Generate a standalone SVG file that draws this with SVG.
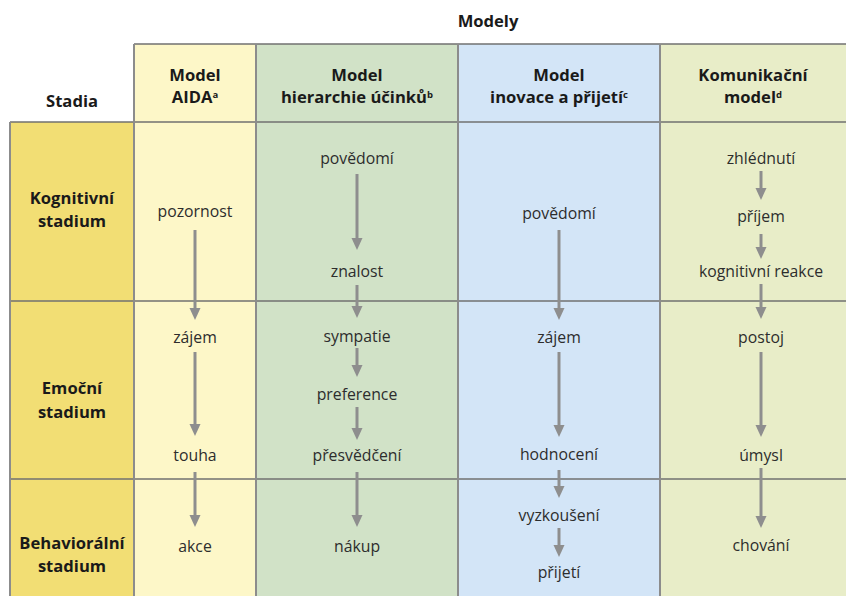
<svg xmlns="http://www.w3.org/2000/svg" width="846" height="596" viewBox="0 0 846 596">
  <style>
    .hd { font-family: "Open Sans", "Noto Sans", "DejaVu Sans", sans-serif; font-weight: bold; font-size: 16.6px; fill: #1a1a1a; text-anchor: middle; }
    .sup { font-size: 9.5px; }
    .tx { font-family: "Open Sans", "Noto Sans", "DejaVu Sans", sans-serif; font-size: 15.8px; fill: #2d2d2d; text-anchor: middle; }
    .vl { stroke: #8c8c8c; stroke-width: 2; fill: none; }
    .hl { stroke: #707070; stroke-width: 1.3; fill: none; }
    .ar { stroke: #8e8e8e; stroke-width: 3; fill: none; marker-end: url(#head); }
  </style>
  <defs>
    <marker id="head" markerUnits="userSpaceOnUse" markerWidth="12" markerHeight="12" viewBox="0 -6 12 12" refX="0" refY="0" orient="auto">
      <path d="M0,-5.5 L12,0 L0,5.5 z" fill="#8e8e8e"/>
    </marker>
  </defs>

  <rect width="846" height="596" fill="#ffffff"/>

  <!-- column fills -->
  <g id="fills">
    <rect x="10" y="122" width="124" height="474" fill="#F2DE74"/>
    <rect x="134" y="44" width="122" height="552" fill="#FDF7C8"/>
    <rect x="256" y="44" width="202" height="552" fill="#D1E2C7"/>
    <rect x="458" y="44" width="202" height="552" fill="#D3E5F7"/>
    <rect x="660" y="44" width="186" height="552" fill="#E8EDC8"/>
  </g>

  <!-- grid lines -->
  <g id="grid">
    <line class="hl" x1="134" y1="44" x2="846" y2="44"/>
    <line class="hl" x1="10" y1="122" x2="846" y2="122"/>
    <line class="hl" x1="10" y1="301" x2="846" y2="301"/>
    <line class="hl" x1="10" y1="479" x2="846" y2="479"/>
    <line class="vl" x1="10" y1="122" x2="10" y2="596"/>
    <line class="vl" x1="134" y1="44" x2="134" y2="596"/>
    <line class="vl" x1="256" y1="44" x2="256" y2="596"/>
    <line class="vl" x1="458" y1="44" x2="458" y2="596"/>
    <line class="vl" x1="660" y1="44" x2="660" y2="596"/>
  </g>

  <!-- headers -->
  <g id="header-modely"><text class="hd" x="488" y="27">Modely</text></g>
  <g id="header-stadia"><text class="hd" x="72" y="107">Stadia</text></g>
  <g id="header-aida">
    <text class="hd" x="195" y="81">Model</text>
    <text class="hd" x="195" y="103">AIDA<tspan class="sup" dy="-5">a</tspan></text>
  </g>
  <g id="header-hierarchie">
    <text class="hd" x="357" y="81">Model</text>
    <text class="hd" x="357" y="103">hierarchie účinků<tspan class="sup" dy="-5">b</tspan></text>
  </g>
  <g id="header-inovace">
    <text class="hd" x="559" y="81">Model</text>
    <text class="hd" x="559" y="103">inovace a přijetí<tspan class="sup" dy="-5">c</tspan></text>
  </g>
  <g id="header-komunikacni">
    <text class="hd" x="753" y="81">Komunikační</text>
    <text class="hd" x="753" y="103">model<tspan class="sup" dy="-5">d</tspan></text>
  </g>

  <!-- stage labels -->
  <g id="stage-kognitivni">
    <text class="hd" x="72" y="204">Kognitivní</text>
    <text class="hd" x="72" y="227">stadium</text>
  </g>
  <g id="stage-emocni">
    <text class="hd" x="72" y="394">Emoční</text>
    <text class="hd" x="72" y="418">stadium</text>
  </g>
  <g id="stage-behavioralni">
    <text class="hd" x="72" y="549">Behaviorální</text>
    <text class="hd" x="72" y="572">stadium</text>
  </g>

  <!-- AIDA model -->
  <g id="aida-pozornost"><text class="tx" x="195" y="217">pozornost</text></g>
  <g id="aida-zajem"><text class="tx" x="195" y="343">zájem</text></g>
  <g id="aida-touha"><text class="tx" x="195" y="461">touha</text></g>
  <g id="aida-akce"><text class="tx" x="195" y="552">akce</text></g>

  <!-- hierarchy of effects -->
  <g id="hier-povedomi"><text class="tx" x="357" y="164">povědomí</text></g>
  <g id="hier-znalost"><text class="tx" x="357" y="277">znalost</text></g>
  <g id="hier-sympatie"><text class="tx" x="357" y="342">sympatie</text></g>
  <g id="hier-preference"><text class="tx" x="357" y="400">preference</text></g>
  <g id="hier-presvedceni"><text class="tx" x="357" y="461">přesvědčení</text></g>
  <g id="hier-nakup"><text class="tx" x="357" y="552">nákup</text></g>

  <!-- innovation adoption -->
  <g id="inov-povedomi"><text class="tx" x="559" y="219">povědomí</text></g>
  <g id="inov-zajem"><text class="tx" x="559" y="343">zájem</text></g>
  <g id="inov-hodnoceni"><text class="tx" x="559" y="460">hodnocení</text></g>
  <g id="inov-vyzkouseni"><text class="tx" x="559" y="521">vyzkoušení</text></g>
  <g id="inov-prijeti"><text class="tx" x="559" y="578">přijetí</text></g>

  <!-- communication model -->
  <g id="kom-zhlednuti"><text class="tx" x="761" y="164">zhlédnutí</text></g>
  <g id="kom-prijem"><text class="tx" x="761" y="222">příjem</text></g>
  <g id="kom-kognitivni-reakce"><text class="tx" x="761" y="277">kognitivní reakce</text></g>
  <g id="kom-postoj"><text class="tx" x="761" y="343">postoj</text></g>
  <g id="kom-umysl"><text class="tx" x="761" y="461">úmysl</text></g>
  <g id="kom-chovani"><text class="tx" x="761" y="551">chování</text></g>

  <!-- connectors: each path ends where the arrowhead base sits (tip - 12) -->
  <g id="connectors">
    <path class="ar" d="M195,230 V308"/>
    <path class="ar" d="M195,352 V424"/>
    <path class="ar" d="M195,472 V515"/>

    <path class="ar" d="M357,174 V238"/>
    <path class="ar" d="M357,285 V306"/>
    <path class="ar" d="M357,348 V365"/>
    <path class="ar" d="M357,407 V428"/>
    <path class="ar" d="M357,472 V515"/>

    <path class="ar" d="M559,230 V308"/>
    <path class="ar" d="M559,352 V425"/>
    <path class="ar" d="M559,470 V486"/>
    <path class="ar" d="M559,528 V545"/>

    <path class="ar" d="M761,171 V188"/>
    <path class="ar" d="M761,234 V247"/>
    <path class="ar" d="M761,284 V307"/>
    <path class="ar" d="M761,352 V425"/>
    <path class="ar" d="M761,468 V516"/>
  </g>
</svg>
